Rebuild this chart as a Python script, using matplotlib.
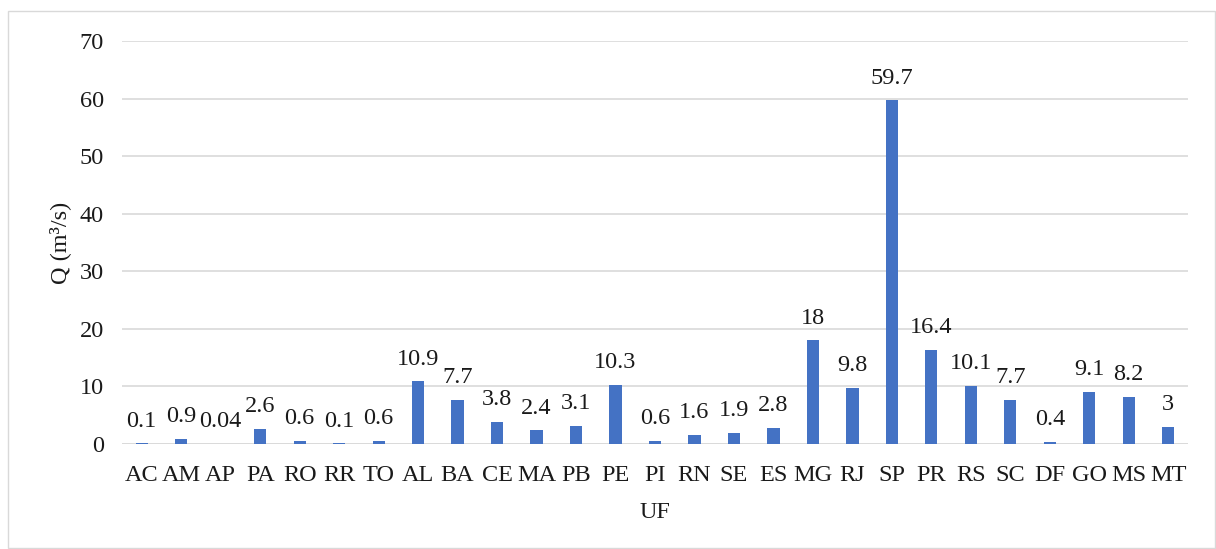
import numpy as np
import matplotlib.pyplot as plt
from matplotlib.patches import Rectangle

plt.rcParams['font.family'] = ['Liberation Serif', 'DejaVu Serif']

# vazão por unidade da federação
ufs = ["AC", "AM", "AP", "PA", "RO", "RR", "TO", "AL", "BA", "CE", "MA", "PB", "PE",
       "PI", "RN", "SE", "ES", "MG", "RJ", "SP", "PR", "RS", "SC", "DF", "GO", "MS", "MT"]
q = [0.1, 0.9, 0.04, 2.6, 0.6, 0.1, 0.6, 10.9, 7.7, 3.8, 2.4, 3.1, 10.3,
     0.6, 1.6, 1.9, 2.8, 18, 9.8, 59.7, 16.4, 10.1, 7.7, 0.4, 9.1, 8.2, 3]
q_labels = ["0.1", "0.9", "0.04", "2.6", "0.6", "0.1", "0.6", "10.9", "7.7", "3.8", "2.4", "3.1", "10.3",
            "0.6", "1.6", "1.9", "2.8", "18", "9.8", "59.7", "16.4", "10.1", "7.7", "0.4", "9.1", "8.2", "3"]
yticks = [0, 10, 20, 30, 40, 50, 60, 70]

FS = 17.5
TXT = "#1a1a1a"

fig = plt.figure(figsize=(12.16, 5.49), dpi=100)
ax = fig.add_axes([122 / 1216, 1 - 444 / 549, (1188 - 122) / 1216, (444 - 41) / 549])

x = np.arange(len(ufs))
bars = ax.bar(x, q, width=0.31, color="#4472C4", zorder=3)
for b, lab in zip(bars, q_labels):
    ax.annotate(lab, (b.get_x() + b.get_width() / 2, b.get_height()),
                xytext=(0, 12), textcoords="offset points", ha="center", va="baseline",
                fontsize=FS, color=TXT)

ax.set_xlim(-0.5, len(ufs) - 0.5)
ax.set_ylim(0, 70)
ax.set_yticks(yticks)
ax.set_xticks(x)
ax.set_xticklabels(ufs)
ax.tick_params(axis="both", length=0, labelsize=FS, colors=TXT)
ax.tick_params(axis="x", pad=15)
ax.tick_params(axis="y", pad=13)
ax.grid(axis="y", color="#D9D9D9", linewidth=1.2, zorder=0)
ax.set_axisbelow(True)
for s in ax.spines.values():
    s.set_visible(False)
ax.axhline(0, color="#D9D9D9", linewidth=1.2, zorder=1)

ax.set_xlabel("UF", fontsize=FS, labelpad=12, color=TXT)
ax.set_ylabel("Q (m³/s)", fontsize=FS, labelpad=6, color=TXT)

# moldura do gráfico
fig.patches.append(Rectangle((8 / 1216, 0.002), 1 - 9 / 1216, 1 - 11 / 549 - 0.002,
                             transform=fig.transFigure, fill=False,
                             edgecolor="#D9D9D9", linewidth=1))

fig.savefig("out.png", dpi=100)
